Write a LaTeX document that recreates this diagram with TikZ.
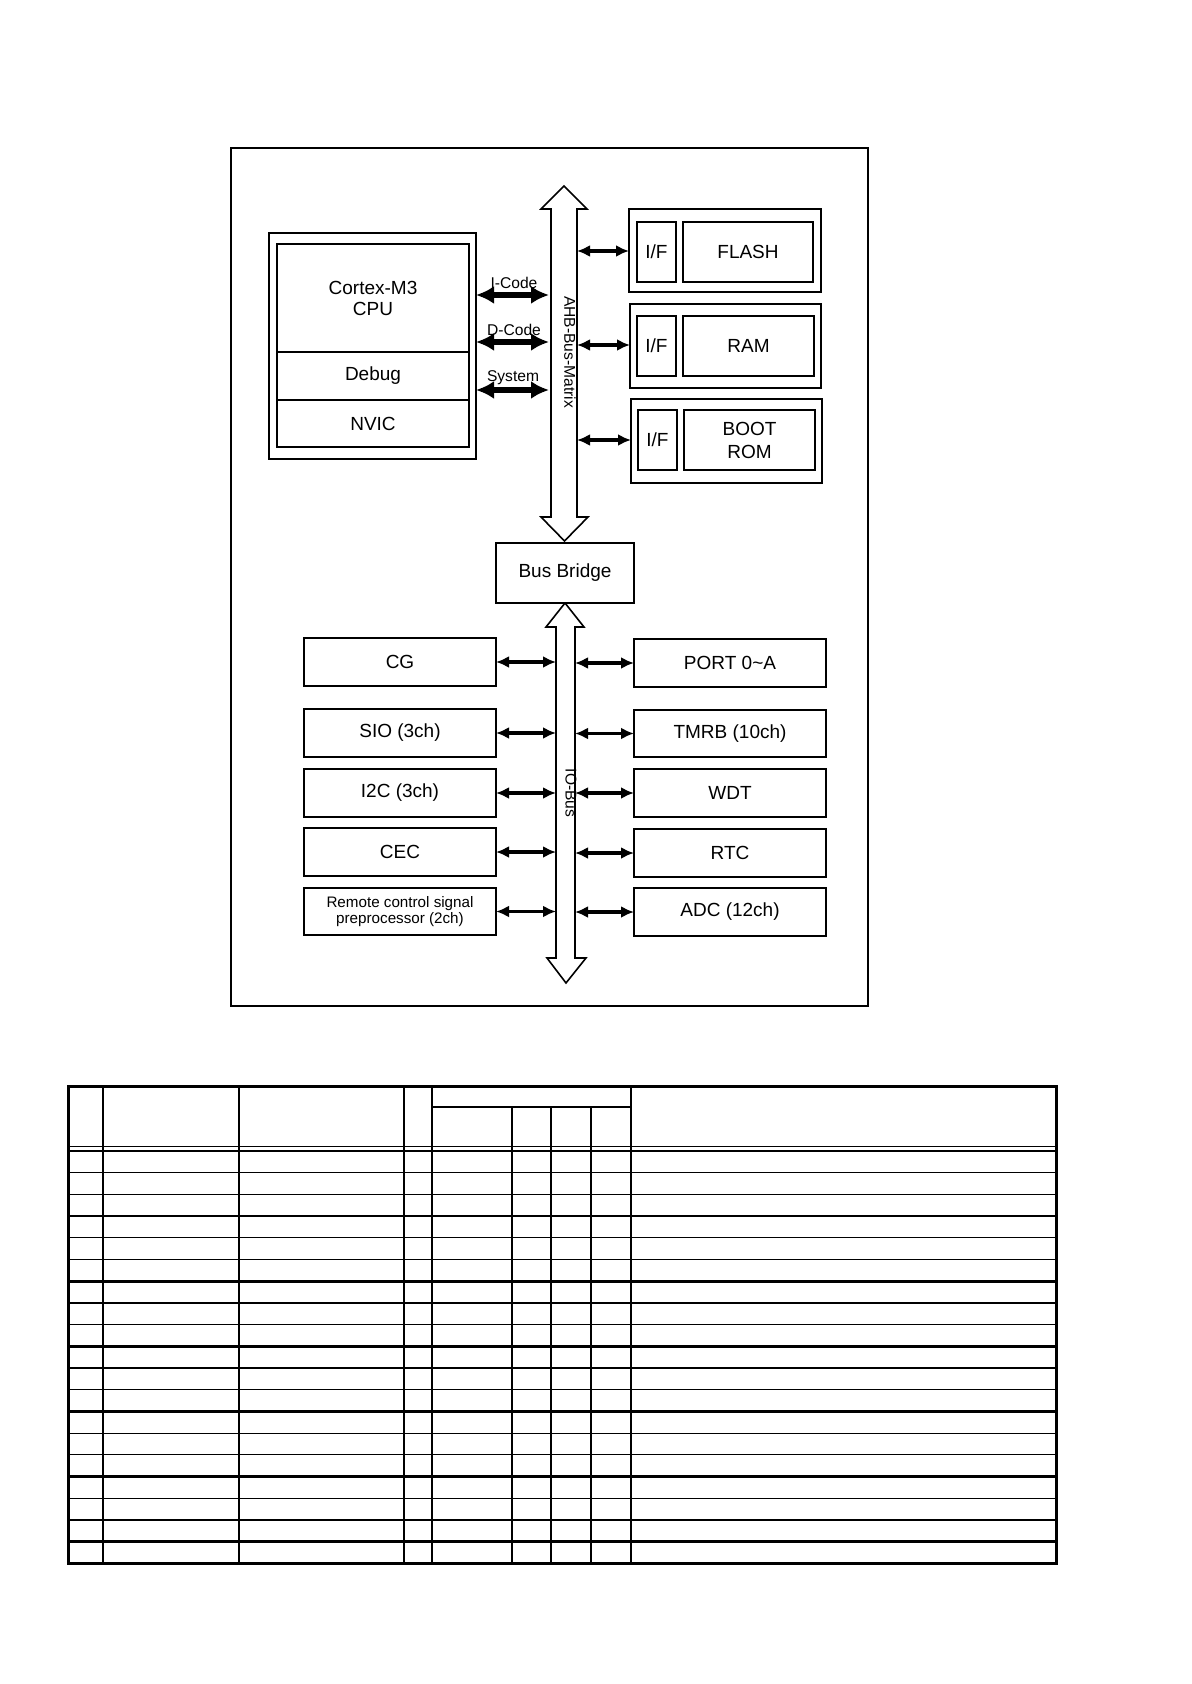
\documentclass[tikz,border=0pt]{standalone}
\usepackage{fontspec}
\setmainfont{Liberation Sans}
\usetikzlibrary{arrows.meta}
\begin{document}
\begin{tikzpicture}[x=0.5pt,y=-0.5pt,
  every node/.style={inner sep=0pt,outer sep=0pt},
  blk/.style 2 args={draw,line width=0.9pt,minimum width=#1*0.5pt,minimum height=#2*0.5pt,align=center,font=\fontsize{9.5}{11.5}\selectfont},
  bus/.style={draw,line width=0.8pt,fill=white,line join=miter},
  cpuarr/.style={line width=2.6pt,{Latex[length=9pt,width=9pt]}-{Latex[length=9pt,width=9pt]}},
  memarr/.style={line width=1.6pt,{Latex[length=6.5pt,width=6pt]}-{Latex[length=6.5pt,width=6pt]}},
  busname/.style={rotate=-90,font=\fontsize{7.8}{9}\selectfont},
  lbl/.style={font=\fontsize{7.8}{9}\selectfont},
  tthin/.style={line width=0.6pt},
  tthick/.style={line width=1.3pt}]

\useasboundingbox (0,0) rectangle (1191,1684);

% outer frame
\node[draw,line width=1pt,minimum width=637*0.5pt,minimum height=858*0.5pt] (frame) at (549.5,577) {};

% buses
\draw[bus] (564,186) -- (587,209) -- (577,209) -- (577,517) -- (588,517) -- (564.5,541) -- (541,517) -- (551,517) -- (551,209) -- (541,209) -- cycle;
\draw[bus] (565,603) -- (584,627) -- (575,627) -- (575,958) -- (586,958) -- (566,983) -- (547,958) -- (556,958) -- (556,627) -- (546,627) -- cycle;
\node[busname] (ahblbl) at (570,352) {AHB-Bus-Matrix};
\node[busname] (iolbl) at (571,793) {IO-Bus};

\coordinate (ahbI) at (549,295);
\coordinate (ahbD) at (549,342);
\coordinate (ahbS) at (549,390);
\coordinate (ahbF) at (577,251);
\coordinate (ahbR) at (577,345);
\coordinate (ahbB) at (577,440);
\coordinate (ioLeft) at (556,780);
\coordinate (ioRight) at (575,780);

% CPU block
\node[blk={207}{226}] (cpuouter) at (372.5,346) {};
\node[blk={192}{108},font=\fontsize{9.5}{10.5}\selectfont] (cpu) at (373,298) {Cortex-M3\\CPU};
\node[blk={192}{48}] (debug) at (373,376) {Debug};
\node[blk={192}{47}] (nvic) at (373,423.5) {NVIC};

% memories
\node[blk={192}{83}] (flashouter) at (725,250.5) {};
\node[blk={39}{60}] (flashif) at (656.5,252) {I/F};
\node[blk={130}{60}] (flash) at (748,252) {FLASH};
\node[blk={191}{84}] (ramouter) at (725.5,346) {};
\node[blk={39}{60}] (ramif) at (656.5,346) {I/F};
\node[blk={131}{60}] (ram) at (748.5,346) {RAM};
\node[blk={191}{84}] (bootouter) at (726.5,441) {};
\node[blk={39}{60}] (bootif) at (657.5,440) {I/F};
\node[blk={131}{60}] (boot) at (749.5,440) {BOOT\\ROM};

% bridge
\node[blk={138}{60},fill=white] (bridge) at (565,573) {Bus Bridge};

% left peripherals
\node[blk={192}{48}] (cg) at (400,662) {CG};
\node[blk={192}{48}] (sio) at (400,733) {SIO (3ch)};
\node[blk={192}{48}] (i2c) at (400,793) {I2C (3ch)};
\node[blk={192}{48}] (cec) at (400,852) {CEC};
\node[blk={192}{47},font=\fontsize{7.6}{8.2}\selectfont] (rc) at (400,911.5) {Remote control signal\\preprocessor (2ch)};

% right peripherals
\node[blk={192}{48}] (port) at (730,663) {PORT 0\char`~A};
\node[blk={192}{47}] (tmrb) at (730,733.5) {TMRB (10ch)};
\node[blk={192}{48}] (wdt) at (730,793) {WDT};
\node[blk={192}{48}] (rtc) at (730,853) {RTC};
\node[blk={192}{48}] (adc) at (730,912) {ADC (12ch)};

% CPU bus arrows
\draw[cpuarr] (cpuouter.east |- ahbI) -- (ahbI);
\draw[cpuarr] (cpuouter.east |- ahbD) -- (ahbD);
\draw[cpuarr] (cpuouter.east |- ahbS) -- (ahbS);
\node[lbl] (icode) at (514,283) {I-Code};
\node[lbl] (dcode) at (514,330) {D-Code};
\node[lbl] (sysl) at (513,378) {System};

% memory arrows
\draw[memarr] (ahbF) -- (ahbF -| flashouter.west);
\draw[memarr] (ahbR) -- (ahbR -| ramouter.west);
\draw[memarr] (ahbB) -- (ahbB -| bootouter.west);

% IO arrows
\foreach \n in {cg,sio,i2c,cec,rc}{
  \draw[memarr] (\n.east) -- (\n.east -| ioLeft);
}
\foreach \n in {port,tmrb,wdt,rtc,adc}{
  \draw[memarr] (\n.west -| ioRight) -- (\n.west);
}

% table
\foreach \k in {1,...,18}{
  \pgfmathsetmacro\yy{1151+\k*21.7}
  \pgfmathtruncatemacro\m{mod(\k,3)}
  \ifnum\m=0
    \draw[tthick] (68,\yy) -- (1056,\yy);
  \else
    \draw[tthin] (68,\yy) -- (1056,\yy);
  \fi
}
\draw[tthin] (68,1146.5) -- (1056,1146.5);
\draw[tthick] (68,1151) -- (1056,1151);
\draw[tthick] (432,1107) -- (631,1107);
\foreach \xx in {103,239,432,631}{ \draw[tthick] (\xx,1086) -- (\xx,1563); }
\draw[tthin] (404,1086) -- (404,1563);
\foreach \xx in {512,591}{ \draw[tthin] (\xx,1107) -- (\xx,1563); }
\draw[tthick] (551,1107) -- (551,1563);
\draw[line width=1.5pt] (68,1086) rectangle (1056,1563);

\end{tikzpicture}
\end{document}
